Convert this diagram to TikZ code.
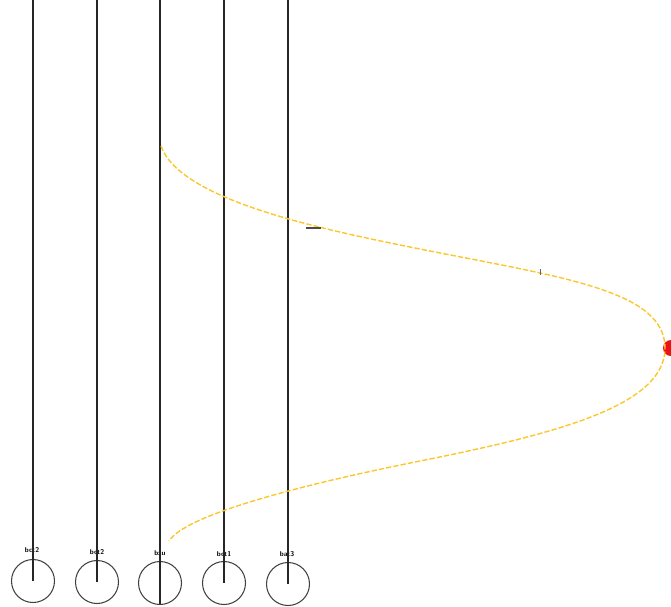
\documentclass[tikz,border=0pt]{standalone}
\usepackage{tikz}
\usetikzlibrary{positioning, calc}

\definecolor{curveyellow}{RGB}{250,200,45}
\definecolor{dotred}{RGB}{235,20,20}

\begin{document}
\begin{tikzpicture}[x=0.02cm, y=-0.02cm]
    % Styles
    \tikzstyle{tank} = [circle, draw=black!75, line width=0.6pt, minimum size=0.86cm, inner sep=0pt]
    \tikzstyle{tag} = [font=\sffamily\bfseries\fontsize{4}{4}\selectfont, inner sep=0.5pt]
    \tikzstyle{wire} = [draw, line width=0.8pt, black!85]
    \tikzstyle{route} = [draw=curveyellow, line width=0.8pt, dash pattern=on 3pt off 1.2pt]

    \useasboundingbox (0,0) rectangle (671,606);

    % Nodes
    \node [tank] (t1) at (33,581) {};
    \node [tank] (t2) at (97,582) {};
    \node [tank] (t3) at (160,583) {};
    \node [tank] (t4) at (224,583) {};
    \node [tank] (t5) at (288,584) {};

    \node [tag] at (32,550) {bct2};
    \node [tag] at (97,552) {bct2};
    \node [tag] at (160,553) {bxu};
    \node [tag] at (224,554) {bct1};
    \node [tag] at (287,554) {bat3};

    \coordinate (top1) at (33,0);
    \coordinate (top2) at (97,0);
    \coordinate (top3) at (160,0);
    \coordinate (top4) at (224,0);
    \coordinate (top5) at (288,0);
    \coordinate (foot3) at (160,604);

    \coordinate (start) at (161,146);
    \coordinate (upper) at (420,249);
    \coordinate (turn) at (665,348);
    \coordinate (lower) at (420,461);
    \coordinate (finish) at (169,541);
    \node [circle, fill=dotred, minimum size=0.32cm, inner sep=0pt] (peak) at (671,348) {};

    % Paths
    \path [wire] (top1) -- (t1.center);
    \path [wire] (top2) -- (t2.center);
    \path [wire] (top3) -- (foot3);
    \path [wire] (top4) -- (t4.center);
    \path [wire] (top5) -- (t5.center);

    \draw [route] (start) .. controls (180,200) and (320,229) .. (upper)
        .. controls (560,277) and (665,290) .. (turn)
        .. controls (665,405) and (560,433) .. (lower)
        .. controls (300,485) and (185,515) .. (finish);

    % Marks
    \draw [black!70, line width=0.6pt] (306,228) -- (321,228);
    \draw [black!60, line width=0.4pt] (540,269) -- (540,275);
\end{tikzpicture}
\end{document}
